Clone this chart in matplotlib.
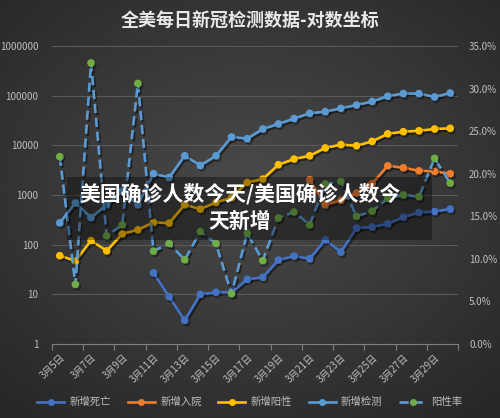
import numpy as np
import matplotlib
matplotlib.use("Agg")
import matplotlib.pyplot as plt
import matplotlib.patheffects as pe
from matplotlib.patches import Rectangle
from matplotlib.lines import Line2D
from matplotlib.ticker import FixedLocator, FuncFormatter, NullFormatter

plt.rcParams['font.family'] = ['Noto Sans CJK SC', 'DejaVu Sans']

# 数据 (3月5日 - 3月30日)
dates = [f"3月{d}日" for d in range(5, 31)]
nan = np.nan
deaths = [nan, nan, nan, nan, nan, nan, 27, 9, 3, 10, 11, 11, 20, 22, 49, 59,
          52, 125, 71, 215, 226, 263, 358, 444, 465, 520]
hospital = [nan] * 16 + [2030, 635, 780, 1100, 1690, 3870, 3530, 3070, 2980, 2680]
positive = [60, 47, 121, 75, 165, 199, 280, 271, 635, 520, 708, 880, 1780, 2090,
            4060, 5300, 6150, 8850, 10300, 9800, 12000, 17000, 18800, 19600, 21300, 22000]
tests = [275, 690, 350, 635, 1200, 635, 2680, 2250, 6150, 3920, 6150, 14700, 13600,
         21300, 26900, 34500, 44000, 47600, 55500, 64600, 76300, 97300, 110000,
         110000, 94000, 113000]
rate = [22.0, 7.0, 33.0, 12.7, 14.0, 30.6, 10.9, 11.8, 9.9, 13.2, 11.8, 5.9, 13.0,
        9.8, 14.8, 15.5, 14.0, 18.8, 19.1, 15.0, 15.6, 17.1, 17.5, 17.3, 21.8, 18.9]

c_death = '#4472C4'
c_hosp = '#ED7D31'
c_pos = '#FFC000'
c_test = '#5B9BD5'
c_rate_m = '#70AD47'
txt = '#bfbfbf'

fig = plt.figure(figsize=(5, 4.18), dpi=100)

# 背景渐变
bg = fig.add_axes([0, 0, 1, 1], zorder=-10)
yy, xx = np.mgrid[0:1:418j, 0:1:500j]
r = np.sqrt(((xx - 0.5) / 0.75) ** 2 + ((yy - 0.45) / 0.7) ** 2)
bg.imshow(np.clip(r, 0, 1), cmap=matplotlib.colors.LinearSegmentedColormap.from_list(
    'g', ['#4a4a4a', '#272727']), aspect='auto', extent=[0, 1, 0, 1], vmin=0, vmax=1)
bg.axis('off')

ax = fig.add_axes([0.104, 0.177, 0.812, 0.713])
ax.set_facecolor('none')
x = np.arange(len(dates))

shadow = [pe.SimpleLineShadow(offset=(1.2, -1.5), shadow_color='black', alpha=0.45), pe.Normal()]
kw = dict(lw=1.9, marker='o', ms=4.5, path_effects=shadow)
ax.plot(x, deaths, color=c_death, **kw)
ax.plot(x, hospital, color=c_hosp, **kw)
ax.plot(x, positive, color=c_pos, **kw)
ax.plot(x, tests, color=c_test, **kw)

ax.set_yscale('log')
ax.set_ylim(1, 1e6)
ax.set_xlim(-0.5, len(dates) - 0.5)
ax.yaxis.set_major_locator(FixedLocator([10 ** k for k in range(7)]))
ax.yaxis.set_major_formatter(FuncFormatter(lambda v, p: f"{int(round(v))}"))
ax.yaxis.set_minor_formatter(NullFormatter())
ax.tick_params(axis='y', which='both', length=0, colors=txt, labelsize=7, pad=10)
ax.grid(axis='y', color='#5a5a5a', lw=0.8)
ax.set_axisbelow(True)

ax.set_xticks(np.arange(-0.5, len(dates), 2))
ax.set_xticklabels([])
ax.set_xticks(x[::2], minor=True)
ax.set_xticklabels(dates[::2], minor=True, rotation=45, ha='right',
                   rotation_mode='anchor', fontsize=7, color=txt)
ax.tick_params(axis='x', which='major', length=4, color='#7f7f7f')
ax.tick_params(axis='x', which='minor', length=0, pad=6)
for s in ['top', 'left', 'right']:
    ax.spines[s].set_visible(False)
ax.spines['bottom'].set_color('#7f7f7f')

ax2 = ax.twinx()
ax2.plot(x, rate, color=c_test, lw=1.9, ls=(0, (3.5, 1.8)), marker='o', ms=4.5,
         mfc=c_rate_m, mec=c_rate_m, path_effects=shadow)
ax2.set_ylim(0, 35)
ax2.set_yticks(np.arange(0, 36, 5))
ax2.yaxis.set_major_formatter(FuncFormatter(lambda v, p: f"{v:.1f}%"))
ax2.tick_params(axis='y', length=0, colors=txt, labelsize=7, pad=8)
for s in ax2.spines.values():
    s.set_visible(False)

# 标题
fig.text(0.5, 0.952, '全美每日新冠检测数据-对数坐标', ha='center', va='center',
         fontsize=13, color='#e8e8e8', fontweight='bold')

# 图例
handles = [
    Line2D([], [], color=c_death, lw=1.9, marker='o', ms=4),
    Line2D([], [], color=c_hosp, lw=1.9, marker='o', ms=4),
    Line2D([], [], color=c_pos, lw=1.9, marker='o', ms=4),
    Line2D([], [], color=c_test, lw=1.9, marker='o', ms=4),
    Line2D([], [], color=c_test, lw=1.9, ls=(0, (3.5, 1.8)), marker='o', ms=4,
           mfc=c_rate_m, mec=c_rate_m),
]
labels = ['新增死亡', '新增入院', '新增阳性', '新增检测', '阳性率']
fig.legend(handles, labels, loc='center', bbox_to_anchor=(0.5, 0.038),
           ncol=5, frameon=False, fontsize=7.5, labelcolor=txt, handlelength=2.6,
           columnspacing=1.6, handletextpad=0.5)

# 水印遮罩
fig.add_artist(Rectangle((0.134, 0.426), 0.73, 0.151, transform=fig.transFigure,
                         facecolor='black', alpha=0.35, edgecolor='none', zorder=10))
fig.text(0.48, 0.504, '美国确诊人数今天/美国确诊人数今\n天新增', ha='center', va='center',
         fontsize=15, color='white', fontweight='bold', linespacing=1.35, zorder=11)

fig.savefig('out.png', dpi=100)
